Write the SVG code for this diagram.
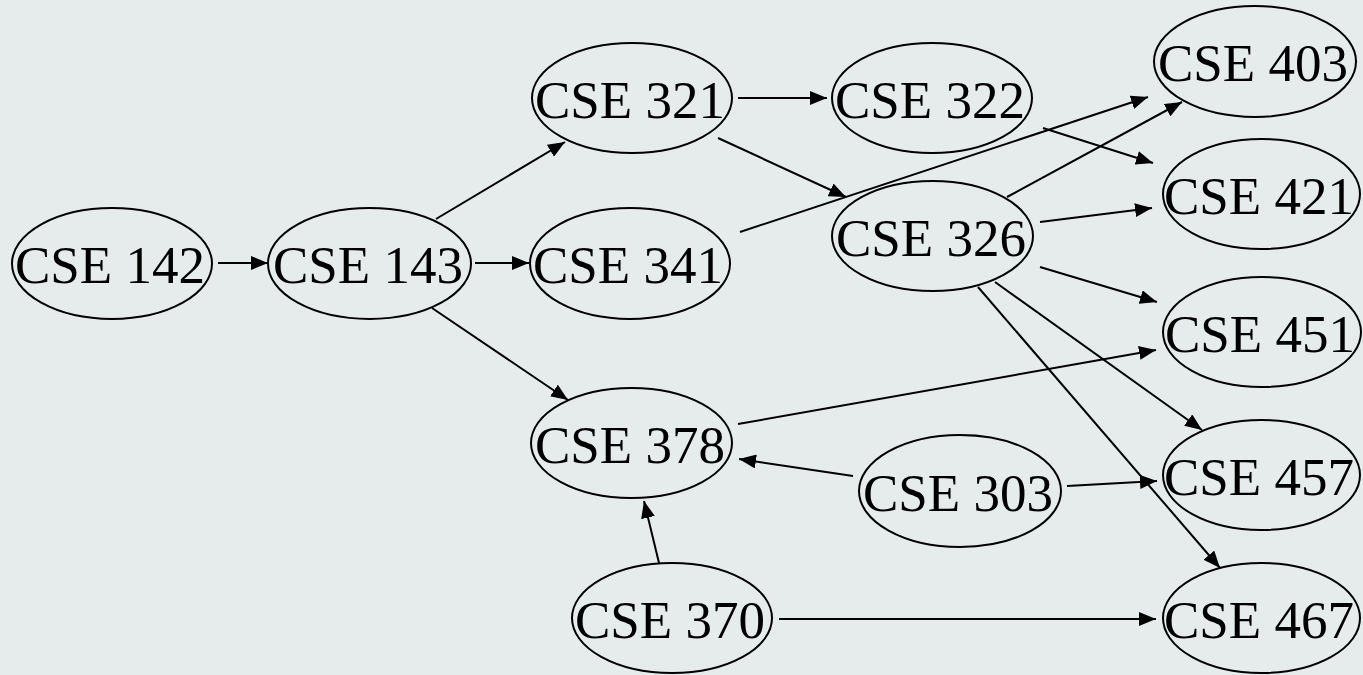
<svg xmlns="http://www.w3.org/2000/svg" width="1363" height="675" viewBox="0 0 1363 675">
  <style>
    .node ellipse { fill: none; stroke: #000; stroke-width: 2; }
    .node text { font-family: "Liberation Serif", "Times New Roman", serif; font-size: 53px; fill: #000; text-anchor: middle; }
    .edges line { stroke: #000; stroke-width: 2; marker-end: url(#arrow); }
  </style>
  <defs>
    <marker id="arrow" markerUnits="userSpaceOnUse" markerWidth="18" markerHeight="14" refX="17" refY="7" orient="auto">
      <path d="M0,0 L17,7 L0,14 Z" fill="#000"/>
    </marker>
  </defs>
  <rect width="1363" height="675" fill="#e6ecec"/>

  <g class="edges" id="edges">
    <line x1="218" y1="263" x2="268" y2="263"/>
    <line x1="475" y1="263" x2="529" y2="263"/>
    <line x1="436" y1="219" x2="565" y2="142"/>
    <line x1="432" y1="308" x2="568" y2="400"/>
    <line x1="738" y1="98" x2="827" y2="98"/>
    <line x1="718" y1="138" x2="846" y2="197"/>
    <line x1="740" y1="232" x2="1148" y2="97"/>
    <line x1="1043" y1="128" x2="1153" y2="163"/>
    <line x1="1007" y1="197" x2="1182" y2="102"/>
    <line x1="1040" y1="222" x2="1152" y2="208"/>
    <line x1="1040" y1="267" x2="1157" y2="302"/>
    <line x1="995" y1="282" x2="1202" y2="430"/>
    <line x1="978" y1="287" x2="1220" y2="568"/>
    <line x1="738" y1="424" x2="1156" y2="350"/>
    <line x1="853" y1="476" x2="739" y2="459"/>
    <line x1="1067" y1="486" x2="1157" y2="481"/>
    <line x1="659" y1="563" x2="644" y2="501"/>
    <line x1="779" y1="619" x2="1156" y2="619"/>
  </g>

  <g class="node" id="cse142"><ellipse cx="112" cy="263.5" rx="100" ry="55.5"/><text x="110" y="283">CSE 142</text></g>
  <g class="node" id="cse143"><ellipse cx="369.5" cy="263.5" rx="101.5" ry="55.5"/><text x="368" y="283">CSE 143</text></g>
  <g class="node" id="cse321"><ellipse cx="632" cy="98" rx="100" ry="55"/><text x="630" y="118">CSE 321</text></g>
  <g class="node" id="cse341"><ellipse cx="630" cy="263.5" rx="100" ry="55.5"/><text x="628" y="283">CSE 341</text></g>
  <g class="node" id="cse378"><ellipse cx="631.5" cy="443" rx="100.5" ry="55"/><text x="630" y="463">CSE 378</text></g>
  <g class="node" id="cse370"><ellipse cx="672" cy="618" rx="100" ry="55"/><text x="670" y="638">CSE 370</text></g>
  <g class="node" id="cse322"><ellipse cx="932" cy="98" rx="100" ry="55"/><text x="930" y="118">CSE 322</text></g>
  <g class="node" id="cse326"><ellipse cx="932.5" cy="236" rx="100.5" ry="55"/><text x="931" y="256">CSE 326</text></g>
  <g class="node" id="cse303"><ellipse cx="960" cy="491" rx="101" ry="56"/><text x="958" y="511">CSE 303</text></g>
  <g class="node" id="cse403"><ellipse cx="1255" cy="61.5" rx="101" ry="55.5"/><text x="1253" y="81">CSE 403</text></g>
  <g class="node" id="cse421"><ellipse cx="1261.5" cy="194" rx="98.5" ry="55"/><text x="1259" y="214">CSE 421</text></g>
  <g class="node" id="cse451"><ellipse cx="1262" cy="332" rx="99" ry="55"/><text x="1260" y="352">CSE 451</text></g>
  <g class="node" id="cse457"><ellipse cx="1261.5" cy="475" rx="98.5" ry="55"/><text x="1259" y="495">CSE 457</text></g>
  <g class="node" id="cse467"><ellipse cx="1261.5" cy="618" rx="98.5" ry="55"/><text x="1259" y="638">CSE 467</text></g>
</svg>
